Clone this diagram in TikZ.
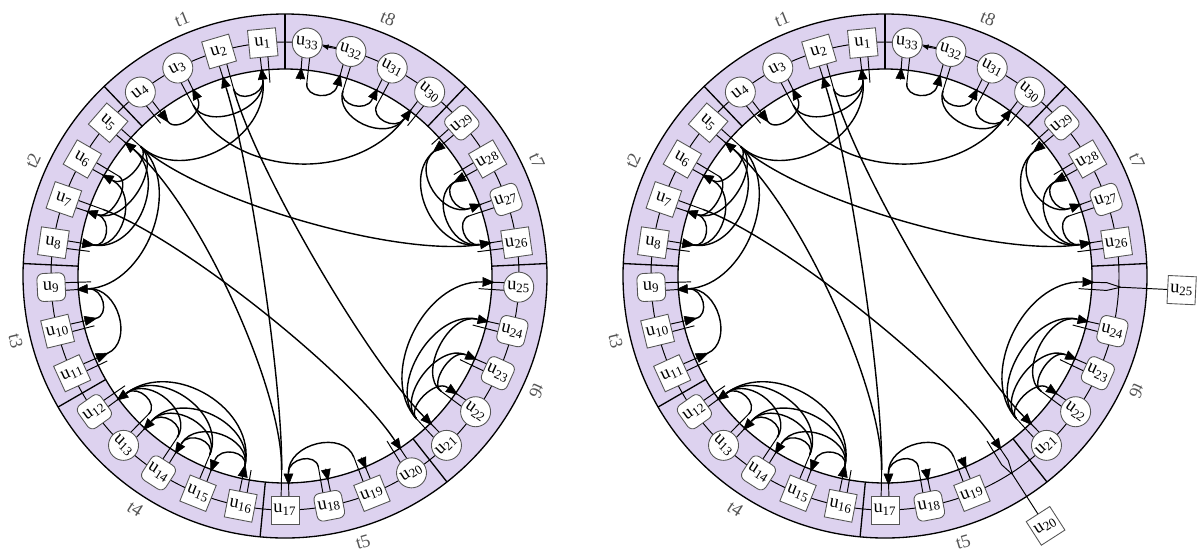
\documentclass[tikz,border=0pt]{standalone}
\usepackage{fontspec}
\setmainfont{Liberation Serif}
\usepackage{tikz}
\usetikzlibrary{arrows.meta, calc}
\definecolor{ringlilac}{HTML}{DDD2EF}
\definecolor{boxgray}{HTML}{555555}

\begin{document}
\begin{tikzpicture}[x=0.02cm, y=0.02cm, font=\fontsize{10.5}{12}\selectfont,
    sq/.style={draw=boxgray, fill=white, line width=0.5pt, minimum size=0.56cm, inner sep=0pt},
    cir/.style={sq, circle, minimum size=0.6cm},
    rnd/.style={sq, rounded corners=3.5pt},
    stub/.style={line width=0.55pt},
    porttip/.style={fill=black, line width=0.3pt, line join=miter},
    link/.style={line width=0.8pt}]
  \useasboundingbox (0,0) rectangle (1200,-559);
  \foreach \p/\cx in {L/285, R/885}{
    \begin{scope}[shift={(\cx,-276)}]
      \coordinate (\p-c) at (0,0);
      \fill[ringlilac, even odd rule] (0,0) circle (262) (0,0) circle (207);
      \draw[line width=0.75pt] (0,0) circle (262) (0,0) circle (207);
      \draw[line width=0.55pt] (0,0) circle (234);
      \foreach \ws in {0,4,8,11,16,20,25,29}
        \draw[line width=0.75pt] ({90+360/33*\ws}:207) -- ({90+360/33*\ws}:262);
      \foreach \ws/\we/\n in {0/4/1, 4/8/2, 8/11/3, 11/16/4, 16/20/5, 20/25/6, 25/29/7, 29/33/8}{
        \pgfmathsetmacro\m{90+180/33*(\ws+\we)}
        \pgfmathsetmacro\tr{\m-90+180*((\m>180)*(\m<320))}
        \node[rotate=\tr, text=boxgray] (\p-t\n) at (\m:277) {t\n};
      }
      \foreach \nk/\sh/\mk/\dd in {1/sq/1/1, 2/sq/1/1, 3/cir/1/-1, 4/cir/0/1, 5/sq/1/1, 6/sq/1/1,
          7/sq/1/1, 8/sq/0/1, 9/rnd/1/1, 10/sq/0/1, 11/sq/0/1, 12/rnd/1/1, 13/cir/1/1,
          14/rnd/1/1, 15/sq/1/1, 16/sq/0/1, 17/sq/1/1, 18/rnd/1/1, 19/sq/1/1, 20/cir/1/1,
          21/cir/1/1, 22/cir/1/1, 23/rnd/1/1, 24/rnd/1/1, 25/cir/1/1, 26/sq/1/1, 27/rnd/1/1,
          28/sq/0/1, 29/rnd/0/1, 30/cir/1/1, 31/cir/1/1, 32/cir/1/1, 33/cir/1/1}{
        \pgfmathsetmacro\ang{90+360/33*(\nk-0.5)}
        \pgfmathsetmacro\rot{mod(\ang+675,90)-45}
        \pgfmathsetmacro\ai{\ang+\dd}
        \pgfmathsetmacro\ao{\ang-\dd}
        \pgfmathsetmacro\ta{\mk==1 ? \ai : \ao}
        \pgfmathsetmacro\rt{\mk==1 ? 209 : 193}
        \pgfmathsetmacro\rb{\mk==1 ? 198 : 205}
        \pgfmathtruncatemacro\away{(\cx>600)*((\nk==20)+(\nk==25))}
        \coordinate (\p-\nk-in) at (\ai:197);
        \coordinate (\p-\nk-out) at (\ao:194);
        \ifnum\away=1
          \node[sq, rotate=\rot] (\p-u\nk) at (\ang:297) {u\textsubscript{\nk}};
          \draw[stub] (\p-\nk-in) -- (\ai:222) -- (\ang:236) -- (\p-u\nk);
          \draw[stub] (\p-\nk-out) -- (\ao:222) -- (\ang:236);
        \else
          \draw[stub] (\p-\nk-in) -- (\ai:234) (\p-\nk-out) -- (\ao:234);
          \node[\sh, rotate=\rot] (\p-u\nk) at (\ang:234) {u\textsubscript{\nk}};
        \fi
        \filldraw[porttip] (\ta:\rt) -- ({\ta+1.3}:\rb) -- ({\ta-1.3}:\rb) -- cycle;
      }
      \draw[line width=0.55pt, -{Triangle[length=3.5pt, width=3pt]}] (\p-u32) -- (\p-u33);
      \foreach \s/\n in {2/1, 3/1, 5/1, 4/3, 3/30, 17/2, 2/21, 17/5, 5/26, 7/20, 5/9, 5/6, 5/7,
          6/7, 8/5, 8/6, 8/7, 10/9, 11/9, 13/12, 14/12, 15/12, 16/12, 14/13, 15/13, 16/13,
          15/14, 16/14, 16/15, 18/17, 19/17, 21/22, 21/23, 21/24, 21/25, 22/23, 22/24,
          29/26, 29/27, 28/26, 28/27, 27/26, 31/30, 32/30, 32/31, 33/32}{
        \pgfmathsetmacro\kk{min(0.42, 0.8*abs(sin((\s-\n)*180/33)))}
        \draw[link] (\p-\s-out) .. controls ($(\p-\s-out)!\kk!(\p-c)$) and ($(\p-\n-in)!\kk!(\p-c)$) .. (\p-\n-in);
      }
    \end{scope}
  }
\end{tikzpicture}
\end{document}
